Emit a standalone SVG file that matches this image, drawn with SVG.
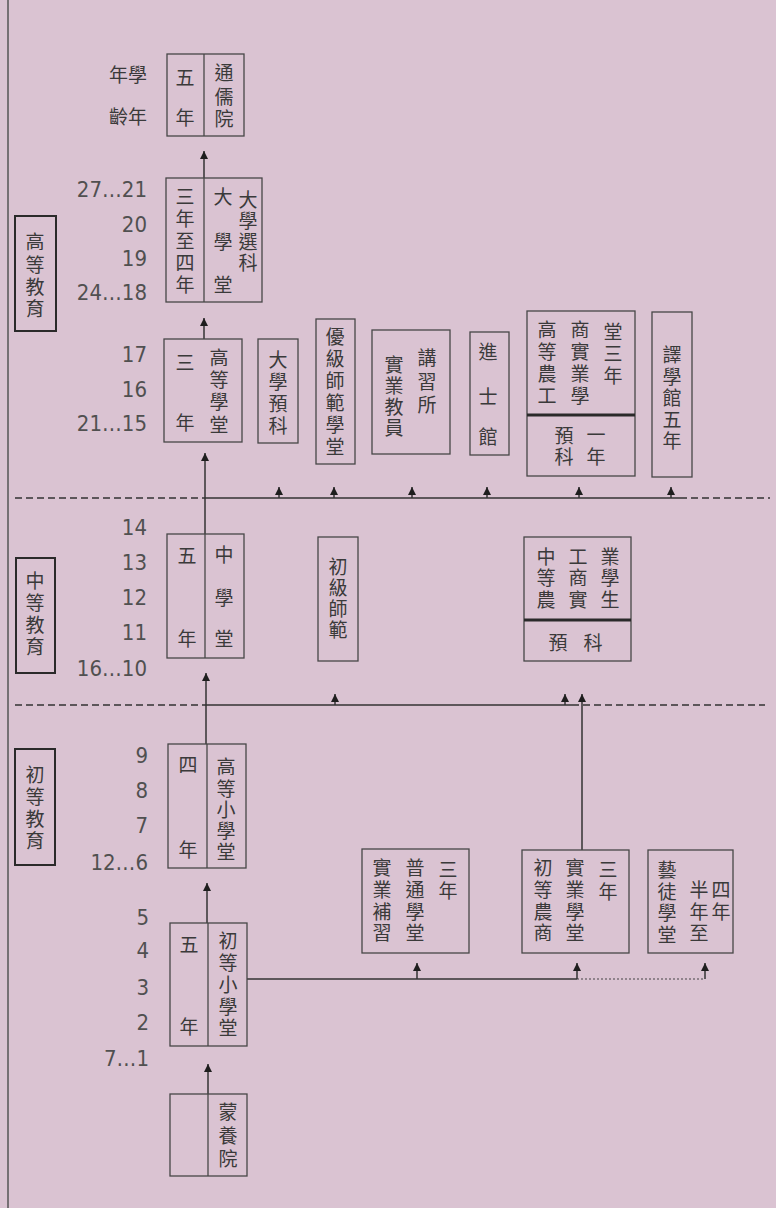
<svg xmlns="http://www.w3.org/2000/svg" width="776" height="1208" viewBox="0 0 776 1208">
<defs>
<style>
.bg{fill:#dac3d2}
.c{font-family:"Noto Sans CJK TC","Noto Sans CJK SC",sans-serif;font-size:19px;fill:#3a3a3a;text-anchor:middle}
.h{font-family:"Noto Sans CJK TC","Noto Sans CJK SC",sans-serif;font-size:19px;fill:#3a3a3a;text-anchor:end}
.n{font-family:"Liberation Sans Narrow","DejaVu Sans Condensed","Liberation Sans",sans-serif;font-stretch:condensed;font-size:22px;fill:#505050;text-anchor:end}
.box{fill:none;stroke:#474747;stroke-width:1.3}
.lbl{fill:none;stroke:#2a2a2a;stroke-width:2}
.div{stroke:#474747;stroke-width:1.3}
.thick{stroke:#2a2a2a;stroke-width:3}
.ln{fill:none;stroke:#333;stroke-width:1.5}
.dash{fill:none;stroke:#333;stroke-width:1.5;stroke-dasharray:7 4}
.dot{fill:none;stroke:#444;stroke-width:1.2;stroke-dasharray:2 2}
.arr{fill:none;stroke:#333;stroke-width:1.5;marker-end:url(#ah)}
</style>
<marker id="ah" viewBox="0 0 10 10" refX="10" refY="5" markerWidth="8" markerHeight="8" orient="auto" markerUnits="userSpaceOnUse">
<path d="M0,0 L10,5 L0,10 z" fill="#1e1e1e"/>
</marker>
</defs>
<rect class="bg" x="0" y="0" width="776" height="1208"/>
<line x1="8" y1="0" x2="8" y2="1208" stroke="#555" stroke-width="1.5"/>

<g id="age-labels">
<text class="h" x="147" y="82">年學</text>
<text class="h" x="147" y="124">齡年</text>
<text class="n" x="147" y="197">27…21</text>
<text class="n" x="147" y="232">20</text>
<text class="n" x="147" y="266">19</text>
<text class="n" x="147" y="300">24…18</text>
<text class="n" x="147" y="362">17</text>
<text class="n" x="147" y="397">16</text>
<text class="n" x="147" y="431">21…15</text>
<text class="n" x="147" y="535">14</text>
<text class="n" x="147" y="570">13</text>
<text class="n" x="147" y="605">12</text>
<text class="n" x="147" y="640">11</text>
<text class="n" x="147" y="676">16…10</text>
<text class="n" x="148" y="763">9</text>
<text class="n" x="148" y="798">8</text>
<text class="n" x="148" y="833">7</text>
<text class="n" x="148" y="870">12…6</text>
<text class="n" x="149" y="925">5</text>
<text class="n" x="149" y="958">4</text>
<text class="n" x="149" y="995">3</text>
<text class="n" x="149" y="1030">2</text>
<text class="n" x="149" y="1066">7…1</text>
</g>

<g id="stage-higher">
<rect class="lbl" x="15" y="216" width="41" height="115"/>
<text class="c" x="35"><tspan x="35" y="249">高</tspan><tspan x="35" y="272">等</tspan><tspan x="35" y="294">教</tspan><tspan x="35" y="316">育</tspan></text>
</g>
<g id="stage-middle">
<rect class="lbl" x="16" y="558" width="39" height="115"/>
<text class="c" x="35"><tspan x="35" y="588">中</tspan><tspan x="35" y="610">等</tspan><tspan x="35" y="632">教</tspan><tspan x="35" y="654">育</tspan></text>
</g>
<g id="stage-primary">
<rect class="lbl" x="15" y="749" width="40" height="116"/>
<text class="c" x="35"><tspan x="35" y="782">初</tspan><tspan x="35" y="804">等</tspan><tspan x="35" y="826">教</tspan><tspan x="35" y="848">育</tspan></text>
</g>

<g id="connectors">
<path class="arr" d="M204,178 V151"/>
<path class="arr" d="M204,339 V318"/>
<path class="arr" d="M205,534 V453"/>
<path class="arr" d="M206,744 V673"/>
<path class="arr" d="M207,923 V883"/>
<path class="arr" d="M208,1094 V1064"/>
<path class="dash" d="M15,498 H204"/>
<path class="ln" d="M204,498 H680"/>
<path class="dash" d="M680,498 H770"/>
<path class="arr" d="M279,498 V487"/>
<path class="arr" d="M334,498 V487"/>
<path class="arr" d="M412,498 V487"/>
<path class="arr" d="M487,498 V487"/>
<path class="arr" d="M579,498 V487"/>
<path class="arr" d="M671,498 V487"/>
<path class="dash" d="M15,705 H205"/>
<path class="ln" d="M205,705 H572"/>
<path class="dash" d="M572,705 H765"/>
<path class="arr" d="M335,705 V694"/>
<path class="arr" d="M565,705 V694"/>
<path class="arr" d="M582,850 V694"/>
<path class="ln" d="M247,979 H577"/>
<path class="dot" d="M577,979 H705"/>
<path class="arr" d="M417,979 V963"/>
<path class="arr" d="M577,979 V963"/>
<path class="arr" d="M705,979 V963"/>
</g>

<g id="tongru-yuan">
<rect class="box" x="167" y="54" width="77" height="82"/>
<line class="div" x1="204" y1="54" x2="204" y2="136"/>
<text class="c" x="185"><tspan x="185" y="85">五</tspan><tspan x="185" y="125">年</tspan></text>
<text class="c" x="224"><tspan x="224" y="80">通</tspan><tspan x="224" y="104">儒</tspan><tspan x="224" y="126">院</tspan></text>
</g>

<g id="daxuetang">
<rect class="box" x="166" y="178" width="96" height="124"/>
<line class="div" x1="204" y1="178" x2="204" y2="302"/>
<text class="c" x="185"><tspan x="185" y="204">三</tspan><tspan x="185" y="226">年</tspan><tspan x="185" y="248">至</tspan><tspan x="185" y="270">四</tspan><tspan x="185" y="292">年</tspan></text>
<text class="c" x="223"><tspan x="223" y="204">大</tspan><tspan x="223" y="249">學</tspan><tspan x="223" y="292">堂</tspan></text>
<text class="c" x="248"><tspan x="248" y="207">大</tspan><tspan x="248" y="228">學</tspan><tspan x="248" y="249">選</tspan><tspan x="248" y="270">科</tspan></text>
</g>

<g id="gaodeng-xuetang">
<rect class="box" x="164" y="339" width="78" height="103"/>
<text class="c" x="185"><tspan x="185" y="370">三</tspan><tspan x="185" y="430">年</tspan></text>
<text class="c" x="219"><tspan x="219" y="365">高</tspan><tspan x="219" y="387">等</tspan><tspan x="219" y="409">學</tspan><tspan x="219" y="432">堂</tspan></text>
</g>

<g id="daxue-yuke">
<rect class="box" x="258" y="339" width="40" height="104"/>
<text class="c" x="278"><tspan x="278" y="367">大</tspan><tspan x="278" y="389">學</tspan><tspan x="278" y="411">預</tspan><tspan x="278" y="433">科</tspan></text>
</g>

<g id="youji-shifan">
<rect class="box" x="316" y="319" width="39" height="145"/>
<text class="c" x="335"><tspan x="335" y="344">優</tspan><tspan x="335" y="366">級</tspan><tspan x="335" y="388">師</tspan><tspan x="335" y="410">範</tspan><tspan x="335" y="432">學</tspan><tspan x="335" y="454">堂</tspan></text>
</g>

<g id="shiye-jiaoyuan">
<rect class="box" x="372" y="330" width="78" height="124"/>
<text class="c" x="427"><tspan x="427" y="365">講</tspan><tspan x="427" y="389">習</tspan><tspan x="427" y="412">所</tspan></text>
<text class="c" x="394"><tspan x="394" y="372">實</tspan><tspan x="394" y="393">業</tspan><tspan x="394" y="414">教</tspan><tspan x="394" y="435">員</tspan></text>
</g>

<g id="jinshi-guan">
<rect class="box" x="470" y="332" width="39" height="123"/>
<text class="c" x="488"><tspan x="488" y="359">進</tspan><tspan x="488" y="404">士</tspan><tspan x="488" y="444">館</tspan></text>
</g>

<g id="gaodeng-shiye">
<rect class="box" x="527" y="311" width="108" height="165"/>
<line class="thick" x1="527" y1="415" x2="635" y2="415"/>
<text class="c" x="547"><tspan x="547" y="337">高</tspan><tspan x="547" y="359">等</tspan><tspan x="547" y="381">農</tspan><tspan x="547" y="403">工</tspan></text>
<text class="c" x="580"><tspan x="580" y="337">商</tspan><tspan x="580" y="359">實</tspan><tspan x="580" y="381">業</tspan><tspan x="580" y="403">學</tspan></text>
<text class="c" x="613"><tspan x="613" y="339">堂</tspan><tspan x="613" y="361">三</tspan><tspan x="613" y="383">年</tspan></text>
<text class="c" x="564"><tspan x="564" y="443">預</tspan><tspan x="564" y="464">科</tspan></text>
<text class="c" x="596"><tspan x="596" y="442">一</tspan><tspan x="596" y="464">年</tspan></text>
</g>

<g id="yixue-guan">
<rect class="box" x="652" y="312" width="40" height="165"/>
<text class="c" x="672"><tspan x="672" y="362">譯</tspan><tspan x="672" y="384">學</tspan><tspan x="672" y="405">館</tspan><tspan x="672" y="427">五</tspan><tspan x="672" y="448">年</tspan></text>
</g>

<g id="zhongxuetang">
<rect class="box" x="167" y="534" width="77" height="124"/>
<line class="div" x1="205" y1="534" x2="205" y2="658"/>
<text class="c" x="187"><tspan x="187" y="563">五</tspan><tspan x="187" y="646">年</tspan></text>
<text class="c" x="224"><tspan x="224" y="562">中</tspan><tspan x="224" y="605">學</tspan><tspan x="224" y="646">堂</tspan></text>
</g>

<g id="chuji-shifan">
<rect class="box" x="318" y="537" width="40" height="124"/>
<text class="c" x="338"><tspan x="338" y="574">初</tspan><tspan x="338" y="595">級</tspan><tspan x="338" y="616">師</tspan><tspan x="338" y="637">範</tspan></text>
</g>

<g id="zhongdeng-shiye">
<rect class="box" x="524" y="537" width="107" height="124"/>
<line class="thick" x1="524" y1="620" x2="631" y2="620"/>
<text class="c" x="546"><tspan x="546" y="564">中</tspan><tspan x="546" y="585">等</tspan><tspan x="546" y="607">農</tspan></text>
<text class="c" x="578"><tspan x="578" y="564">工</tspan><tspan x="578" y="585">商</tspan><tspan x="578" y="607">實</tspan></text>
<text class="c" x="610"><tspan x="610" y="564">業</tspan><tspan x="610" y="585">學</tspan><tspan x="610" y="607">生</tspan></text>
<text class="c" x="558" y="650">預</text>
<text class="c" x="593" y="650">科</text>
</g>

<g id="gaodeng-xiaoxuetang">
<rect class="box" x="168" y="744" width="78" height="124"/>
<line class="div" x1="207" y1="744" x2="207" y2="868"/>
<text class="c" x="188"><tspan x="188" y="772">四</tspan><tspan x="188" y="857">年</tspan></text>
<text class="c" x="226"><tspan x="226" y="774">高</tspan><tspan x="226" y="796">等</tspan><tspan x="226" y="817">小</tspan><tspan x="226" y="838">學</tspan><tspan x="226" y="859">堂</tspan></text>
</g>

<g id="chudeng-xiaoxuetang">
<rect class="box" x="170" y="923" width="77" height="123"/>
<line class="div" x1="208" y1="923" x2="208" y2="1046"/>
<text class="c" x="189"><tspan x="189" y="952">五</tspan><tspan x="189" y="1034">年</tspan></text>
<text class="c" x="228"><tspan x="228" y="948">初</tspan><tspan x="228" y="970">等</tspan><tspan x="228" y="992">小</tspan><tspan x="228" y="1014">學</tspan><tspan x="228" y="1035">堂</tspan></text>
</g>

<g id="mengyang-yuan">
<rect class="box" x="170" y="1094" width="77" height="82"/>
<line class="div" x1="208" y1="1094" x2="208" y2="1176"/>
<text class="c" x="228"><tspan x="228" y="1119">蒙</tspan><tspan x="228" y="1143">養</tspan><tspan x="228" y="1166">院</tspan></text>
</g>

<g id="shiye-buxi">
<rect class="box" x="362" y="849" width="107" height="104"/>
<text class="c" x="448"><tspan x="448" y="877">三</tspan><tspan x="448" y="898">年</tspan></text>
<text class="c" x="415"><tspan x="415" y="875">普</tspan><tspan x="415" y="897">通</tspan><tspan x="415" y="919">學</tspan><tspan x="415" y="940">堂</tspan></text>
<text class="c" x="382"><tspan x="382" y="875">實</tspan><tspan x="382" y="897">業</tspan><tspan x="382" y="919">補</tspan><tspan x="382" y="940">習</tspan></text>
</g>

<g id="chudeng-shiye">
<rect class="box" x="522" y="850" width="107" height="103"/>
<text class="c" x="608"><tspan x="608" y="877">三</tspan><tspan x="608" y="899">年</tspan></text>
<text class="c" x="575"><tspan x="575" y="875">實</tspan><tspan x="575" y="897">業</tspan><tspan x="575" y="919">學</tspan><tspan x="575" y="940">堂</tspan></text>
<text class="c" x="543"><tspan x="543" y="875">初</tspan><tspan x="543" y="897">等</tspan><tspan x="543" y="919">農</tspan><tspan x="543" y="940">商</tspan></text>
</g>

<g id="yitu-xuetang">
<rect class="box" x="648" y="850" width="85" height="103"/>
<text class="c" x="667"><tspan x="667" y="877">藝</tspan><tspan x="667" y="899">徒</tspan><tspan x="667" y="920">學</tspan><tspan x="667" y="942">堂</tspan></text>
<text class="c" x="699"><tspan x="699" y="897">半</tspan><tspan x="699" y="919">年</tspan><tspan x="699" y="940">至</tspan></text>
<text class="c" x="721"><tspan x="721" y="897">四</tspan><tspan x="721" y="919">年</tspan></text>
</g>
</svg>
